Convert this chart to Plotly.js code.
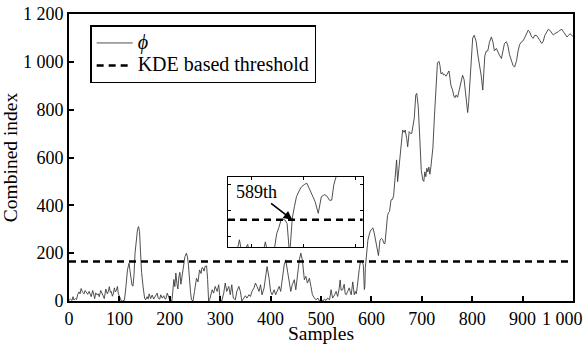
<!DOCTYPE html>
<html>
<head>
<meta charset="utf-8">
<script src="https://cdn.plot.ly/plotly-3.0.1.min.js"></script>
<style>
  html, body { margin: 0; padding: 0; background: #fff; }
  #chart { width: 588px; height: 344px; }
</style>
</head>
<body>
<div id="chart"></div>
<script>
// Sample index of each reading
const sampleIdx = [
  0,3,6,8,10,13,15,17,20,22,24,27,30,32,34,37,40,42,44,47,49,51,53,56,58,60,63,66,68,70,
  73,76,78,80,82,84,86,88,90,92,94,96,98,100,102,104,106,108,110,113,116,119,121,123,125,127,129,131,134,136,
  138,140,142,144,147,150,152,155,157,159,162,165,168,170,172,175,177,180,182,185,188,190,192,195,198,200,202,204,206,208,
  210,212,214,216,218,220,222,224,226,228,230,233,235,237,239,241,243,246,249,251,253,256,259,262,264,266,268,270,273,275,
  277,279,281,284,287,290,294,297,300,303,307,310,313,317,320,323,326,330,333,337,340,343,347,350,353,357,360,363,367,370,
  373,377,380,383,387,390,393,397,400,403,407,410,413,417,420,423,427,430,433,437,440,443,447,450,453,457,460,463,467,470,
  473,477,480,483,487,490,494,497,500,504,507,510,513,517,520,523,527,530,533,536,538,540,543,546,548,550,553,556,558,560,
  563,566,568,570,572,574,576,578,580,582,584,585,586,587,588,589,591,593,596,598,601,603,606,609,611,614,617,620,622,625,
  627,629,632,634,636,639,642,644,646,648,650,652,655,657,660,662,665,667,670,672,675,678,680,683,685,688,690,693,695,697,
  699,702,704,706,708,710,712,714,716,718,720,722,725,728,731,734,736,738,741,743,745,748,751,754,756,758,761,764,766,768,
  771,774,778,781,784,786,788,791,793,795,798,801,804,806,808,811,814,818,821,823,825,828,831,834,838,841,844,848,851,854,
  858,861,864,868,871,874,878,881,884,888,891,894,898,901,904,908,911,914,918,921,924,928,931,934,938,941,944,948,951,954,
  958,961,964,968,971,974,978,981,984,988,991,994,997,1000
];

// Combined index phi at each sample
const phiValues = [
  3,8,2,18,4,10,6,26,38,30,52,36,30,44,38,28,40,30,18,44,20,10,34,25,30,18,44,30,22,10,
  50,30,40,60,36,40,20,30,55,38,44,61,30,20,2,0,0,1,3,60,130,158,120,80,66,62,110,200,280,300,
  311,290,200,120,60,12,5,18,8,30,10,25,8,15,20,33,12,8,26,12,22,10,8,33,15,2,0,0,40,90,
  60,117,75,50,100,120,70,95,120,150,185,200,185,150,80,40,5,0,40,70,95,80,130,115,140,137,125,145,147,90,
  0,5,19,47,33,61,40,68,5,0,33,75,40,61,26,68,12,5,40,61,40,0,12,22,12,26,19,40,54,75,
  61,40,68,26,54,103,144,95,40,26,47,26,40,61,40,89,151,172,130,68,40,68,89,47,110,172,200,172,89,103,
  75,95,61,26,12,5,12,0,5,0,8,2,12,5,47,12,26,40,19,50,88,45,47,70,30,26,40,55,40,26,
  80,26,40,30,60,113,135,162,168,164,150,100,48,60,140,172,215,254,280,293,302,306,280,250,235,190,254,262,258,240,
  241,300,357,370,374,423,425,440,492,576,590,499,570,620,700,715,705,715,680,645,708,700,701,730,764,861,868,812,720,600,
  545,506,500,540,520,555,540,560,530,560,590,640,770,900,995,1002,985,950,955,945,948,940,955,962,930,900,882,854,850,861,
  852,880,905,944,925,880,840,788,830,900,1035,1100,1111,1100,1084,1032,995,940,882,960,1025,1045,1046,1080,1104,1084,1046,1056,1038,1028,
  1014,1050,1077,1084,1066,1030,1000,985,978,1005,1045,1072,1084,1088,1100,1120,1132,1125,1104,1098,1111,1110,1098,1090,1077,1086,1110,1128,1136,1132,
  1118,1112,1118,1122,1126,1132,1136,1126,1116,1104,1110,1118,1112,1106
];

// KDE based threshold and the first sample above it
const threshold = 165;
const firstExceed = 589;

// Axis ticks; the label of the last x tick is set flush right so it stays on the page
const xTickVals = [0,100,200,300,400,500,600,700,800,900,1000];
const xTickText = ['0','100','200','300','400','500','600','700','800','900','1 000'];
const yTickVals = [0,200,400,600,800,1000,1200];
const yTickText = ['0','200','400','600','800','1 000','1 200'];

// Zoomed window around the first exceedance
const zoomX = [527, 657];
const zoomY = [60, 330];

const serif = 'Liberation Serif';
const sampleSpan = [sampleIdx[0], sampleIdx[sampleIdx.length - 1]];
const lastX = xTickVals.length - 1;

// legend rows are spaced for a small font while the names are set at 20px
const legendName = s => '<span style="font-size:20px">' + s + '</span>';

const traces = [
  {
    x: sampleIdx, y: phiValues, type: 'scatter', mode: 'lines',
    name: legendName('<i>\u03D5</i>'),
    line: { color: '#3c3c3c', width: 0.9 },
    xaxis: 'x', yaxis: 'y'
  },
  {
    x: sampleSpan, y: [threshold, threshold], type: 'scatter', mode: 'lines',
    name: legendName('KDE based threshold'),
    line: { color: '#000', width: 2.5, dash: '7px,5px' },
    xaxis: 'x', yaxis: 'y'
  },
  {
    x: sampleIdx, y: phiValues, type: 'scatter', mode: 'lines',
    showlegend: false,
    line: { color: '#3c3c3c', width: 0.9 },
    xaxis: 'x2', yaxis: 'y2'
  },
  {
    x: zoomX, y: [threshold, threshold], type: 'scatter', mode: 'lines',
    showlegend: false,
    line: { color: '#000', width: 2.5, dash: '7px,5px' },
    xaxis: 'x2', yaxis: 'y2'
  }
];

const frameAxis = {
  showline: true, linecolor: '#000', linewidth: 2, mirror: true,
  ticks: 'inside', ticklen: 5, tickwidth: 2, tickcolor: '#000',
  showgrid: false, zeroline: false,
  tickfont: { family: serif, size: 18, color: '#000' }
};

const insetAxis = {
  showline: true, linecolor: '#000', linewidth: 1, mirror: 'allticks',
  ticks: 'inside', ticklen: 3, tickwidth: 1, tickcolor: '#000',
  showgrid: false, zeroline: false, showticklabels: false, fixedrange: true
};

const layout = {
  width: 588, height: 344,
  margin: { l: 69, r: 15, t: 14, b: 43, pad: 0 },
  paper_bgcolor: '#fff', plot_bgcolor: '#fff',
  font: { family: serif, size: 18, color: '#000' },
  showlegend: true,
  xaxis: Object.assign({}, frameAxis, {
    range: [0, 1000], domain: [0, 1], anchor: 'y',
    tickvals: xTickVals,
    ticktext: xTickText.map((t, i) => (i === lastX ? '' : t)),
    title: { text: 'Samples', font: { family: serif, size: 19.5, color: '#000' }, standoff: 1 }
  }),
  yaxis: Object.assign({}, frameAxis, {
    range: [0, 1200], domain: [0, 1], anchor: 'x',
    tickvals: yTickVals, ticktext: yTickText,
    title: { text: 'Combined index', font: { family: serif, size: 19.5, color: '#000' }, standoff: 0 }
  }),
  xaxis2: Object.assign({}, insetAxis, {
    range: zoomX, domain: [0.3155, 0.583], anchor: 'y2', tick0: 0, dtick: 50
  }),
  yaxis2: Object.assign({}, insetAxis, {
    range: zoomY, domain: [0.188, 0.432], anchor: 'x2', tick0: 0, dtick: 100
  }),
  legend: {
    x: 0.042, y: 0.961, xanchor: 'left', yanchor: 'top',
    bgcolor: '#fff', bordercolor: '#000', borderwidth: 1.5,
    font: { family: serif, size: 15, color: '#000' },
    itemwidth: 36, tracegroupgap: 0
  },
  annotations: [
    {
      x: firstExceed, y: threshold, xref: 'x2', yref: 'y2',
      text: firstExceed + 'th', showarrow: true,
      arrowhead: 2, arrowsize: 1.1, arrowwidth: 1.6, arrowcolor: '#000',
      ax: -36, ay: -28, standoff: 0,
      font: { family: serif, size: 18, color: '#000' }
    },
    {
      // last x tick label, kept inside the right edge
      x: xTickVals[lastX], y: 0, xref: 'x', yref: 'paper',
      text: xTickText[lastX], showarrow: false,
      xanchor: 'right', yanchor: 'top', xshift: 12, yshift: -6,
      font: { family: serif, size: 18, color: '#000' }
    }
  ]
};

Plotly.newPlot('chart', traces, layout, { staticPlot: true, displayModeBar: false });
</script>
</body>
</html>
